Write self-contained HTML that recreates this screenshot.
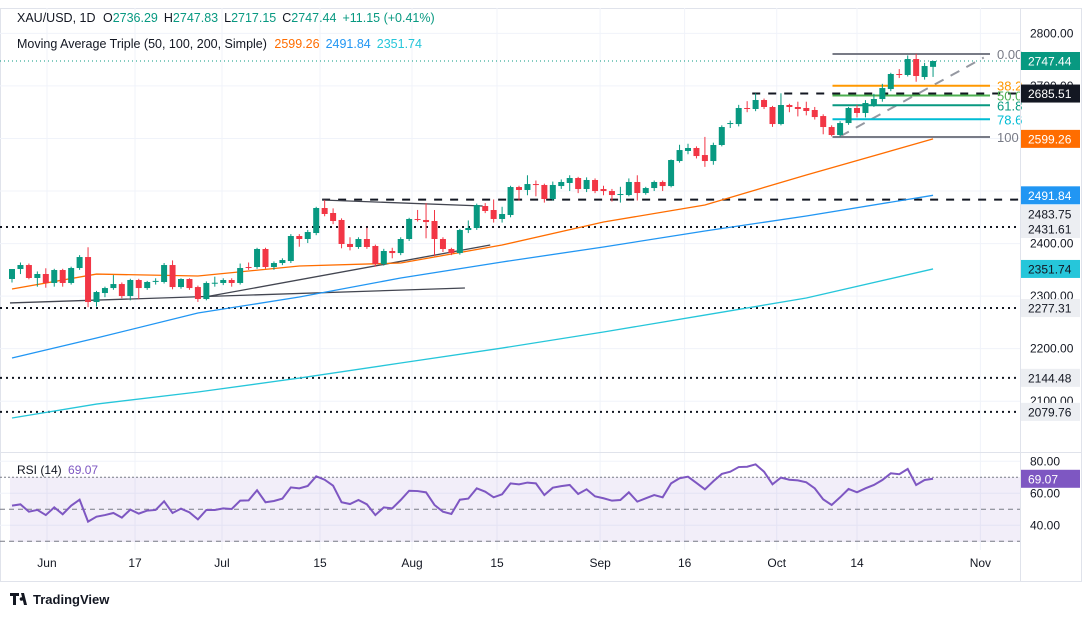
<!DOCTYPE html>
<html><head><meta charset="utf-8">
<style>
html,body{margin:0;padding:0;background:#fff;}
svg{display:block;font-family:"Liberation Sans",sans-serif;}
</style></head>
<body>
<svg id="chart" width="1091" height="617" viewBox="0 0 1091 617">
<rect x="0" y="0" width="1091" height="617" fill="#fff"/>
<rect x="0.5" y="8.5" width="1081" height="573" fill="none" stroke="#e0e3eb"/>
<g id="grid"></g>
<rect x="10" y="477" width="1010" height="65" fill="#7e57c2" fill-opacity="0.1"/>
<g id="main"></g>
<g id="rsi"></g>
<line x1="0" y1="452.5" x2="1081" y2="452.5" stroke="#e0e3eb"/>
<line x1="1020.5" y1="8" x2="1020.5" y2="582" stroke="#e0e3eb"/>
<g id="axes"></g>
<text x="17" y="22" font-size="12.5" fill="#131722">XAU/USD, 1D <tspan dx="4">O</tspan><tspan fill="#089981">2736.29</tspan><tspan dx="6">H</tspan><tspan fill="#089981">2747.83</tspan><tspan dx="6">L</tspan><tspan fill="#089981">2717.15</tspan><tspan dx="6">C</tspan><tspan fill="#089981">2747.44</tspan><tspan dx="6" fill="#089981">+11.15 (+0.41%)</tspan></text>
<text x="17" y="48" font-size="12.5" fill="#131722">Moving Average Triple (50, 100, 200, Simple) <tspan dx="4" fill="#ff6d00">2599.26</tspan><tspan dx="6" fill="#2196f3">2491.84</tspan><tspan dx="6" fill="#26c6da">2351.74</tspan></text>
<text x="17" y="474" font-size="12" fill="#131722">RSI (14) <tspan dx="3" fill="#7e57c2">69.07</tspan></text>
<g>
<path d="M10 593h9v3h-3v9h-3v-9h-3z M21 593h3l3 12h-3z" fill="#131722"/>
<circle cx="21.5" cy="599" r="1.8" fill="#131722"/>
<text x="33" y="604" font-size="13" font-weight="bold" fill="#131722">TradingView</text>
</g>
</svg>
<script>
const candles=[
[2332.6,2338,2326,2351.6],[2351.6,2364,2342,2359.2],[2359.2,2362,2332,2334.5],[2334.5,2347,2318,2342.1],[2342.1,2353,2316,2325],
[2325,2352,2318,2349.7],[2349.7,2352,2318,2325],[2325,2356,2322,2353.5],[2353.5,2378,2350,2374.4],[2374.4,2393,2279,2288.8],
[2288.8,2310,2280,2307.8],[2305.9,2318,2298,2315.4],[2315.4,2340,2312,2323],[2323,2326,2296,2300.2],[2300.2,2333,2292,2330.7],
[2330.7,2333,2294,2315.4],[2315.4,2329,2312,2326.9],[2328.8,2334,2322,2329],[2326.9,2363,2324,2359.2],[2359.2,2368,2313,2317.3],
[2317.3,2334,2314,2332.6],[2332.6,2334,2312,2315.4],[2317.3,2320,2289,2294.5],[2294.5,2328,2292,2325],[2325,2337,2318,2325.5],
[2325,2334,2321,2330.7],[2330.7,2334,2318,2325],[2325,2362,2322,2353.5],[2355.4,2364,2350,2355],[2355.4,2392,2352,2389.7],
[2389.7,2392,2352,2355.4],[2355.4,2366,2350,2363],[2363,2372,2359,2368.7],[2366.8,2418,2363,2414.4],[2414.4,2418,2394,2408.7],
[2408.7,2426,2401,2422],[2420.1,2470,2416,2467.7],[2467.7,2483,2452,2456.3],[2458.2,2467,2437,2443],[2444.9,2448,2391,2399.2],
[2399.2,2412,2387,2393.5],[2393.5,2412,2390,2408.7],[2408.7,2430,2390,2393.5],[2395.4,2398,2356,2361.1],[2361.1,2390,2358,2385.9],
[2385.9,2392,2372,2382],[2382,2412,2378,2408.7],[2408.7,2449,2405,2446.8],[2446.8,2464,2442,2446],[2444.9,2477,2410,2441],
[2443,2464,2376,2408.7],[2408.7,2412,2384,2389.7],[2389.7,2392,2378,2382],[2382,2428,2379,2425.8],[2425.8,2444,2420,2429.6],
[2429.6,2476,2426,2473.4],[2471.5,2477,2458,2462],[2463.9,2484,2440,2446.8],[2446.8,2470,2440,2456.3],[2454.4,2510,2450,2507.6],
[2507.6,2510,2482,2502],[2502,2530,2492,2513.3],[2513.3,2520,2490,2513],[2511.5,2514,2478,2484.8],[2484.8,2518,2482,2511.5],
[2509.5,2522,2504,2517.2],[2515.3,2530,2500,2524.8],[2524.8,2527,2496,2503.8],[2503.8,2526,2498,2521],[2521,2524,2496,2500],
[2503.8,2510,2492,2500],[2500,2504,2480,2492.4],[2492.4,2508,2478,2494.3],[2492.4,2524,2490,2517.2],[2517.2,2530,2482,2496.2],
[2496.2,2508,2493,2505.7],[2505.7,2520,2500,2517.2],[2517.2,2520,2500,2509.5],[2509.5,2560,2507,2559],[2557.1,2588,2554,2578],
[2576.2,2590,2570,2581.9],[2581.9,2585,2562,2566.6],[2568.5,2603,2546,2557.1],[2557.1,2592,2550,2587.6],[2587.6,2625,2585,2621.8],
[2627.5,2634,2620,2629.4],[2627.5,2664,2623,2658],[2658,2671,2650,2656.1],[2656.1,2686,2652,2673.2],[2673.2,2676,2656,2659.9],
[2659.9,2662,2622,2627.5],[2627.5,2686,2625,2663.7],[2663.7,2666,2650,2659.9],[2659.9,2670,2642,2656.1],[2658,2670,2644,2652.3],
[2654.2,2660,2636,2640.8],[2642.7,2646,2608,2621.8],[2621.8,2625,2604,2606.6],[2606.6,2633,2603,2629.4],[2629.4,2660,2626,2658],
[2658,2664,2640,2648.5],[2648.5,2673,2640,2667.5],[2663.7,2685,2660,2675.1],[2675.1,2704,2670,2696],[2694.1,2725,2690,2722.7],
[2722.7,2732,2715,2720.8],[2720.8,2758,2718,2751.2],[2751.2,2761,2708,2718.9],[2717,2744,2712,2737.9],[2736.29,2747.83,2717.15,2747.44]];
const rsiValues=[52.3,53.1,48.5,49.6,46.4,51.2,46.9,52.3,56.0,42.3,45.4,46.4,47.7,44.8,49.8,47.3,49.2,49.6,55.0,47.7,
50.4,48.1,43.7,49.6,49.6,50.6,50.2,55.4,55.6,61.9,54.4,55.2,56.7,63.7,63.1,64.6,70.6,68.5,64.8,54.4,
53.3,55.8,53.1,46.4,51.2,50.6,55.8,61.6,61.4,60.6,52.7,48.5,47.1,56.0,56.7,63.1,61.0,57.5,59.4,
66.2,65.6,66.7,66.2,58.9,63.5,64.5,65.2,59.6,62.5,58.1,56.9,55.4,55.8,60.6,54.8,56.9,58.9,57.5,66.2,69.4,
70.4,66.5,62.5,67.5,72.1,73.5,76.4,76.6,78.1,73.5,65.6,69.8,68.5,68.1,66.9,63.1,56.2,52.7,57.5,62.7,
60.6,63.1,65.2,68.3,72.5,71.9,75.2,65.2,68.3,69.07];
const maIdx=[0,10,22,34,46,58,70,82,94,109];
const sma50=[2313.5,2342,2338.3,2357.3,2363,2397.3,2441,2473.4,2530.5,2599.26];
const sma100=[2182.2,2220.3,2267.9,2298.3,2334.5,2365,2393.5,2424,2452.5,2491.84];
const sma200=[2068,2094.6,2117.5,2144.1,2172.7,2201.2,2231.7,2264,2296.4,2351.74];
const timeTickIdx=[4.14,14.56,24.85,36.45,47.34,57.4,69.6,79.6,90.5,100,114.6];
const timeTickLabels=["Jun","17","Jul","15","Aug","15","Sep","16","Oct","14","Nov"];
const priceTicks=[2800,2700,2400,2300,2200,2100];
const gridPrices=[2800,2700,2600,2500,2400,2300,2200,2100];
const dottedLevels=[2431.61,2277.31,2144.48,2079.76];
const fibHigh=2760.7, fibLow=2602.8;
const fibRatios=[0,0.382,0.5,0.618,0.786,1];
const fibLabels=["0.00","38.2","50.0","61.8","78.6","100"];
const fibColors=["#787b86","#ff9800","#4caf50","#089981","#00bcd4","#787b86"];
const rsiTicks=[80,60,40];
const rsiTickLabels=["80.00","60.00","40.00"];

const NS="http://www.w3.org/2000/svg";
const X=i=>12+i*8.45;
const Y=p=>61+(2747.44-p)*0.5255;
const RY=v=>477.3+(70-v)*1.6;
function mk(parent,tag,attrs){const e=document.createElementNS(NS,tag);for(const k in attrs)e.setAttribute(k,attrs[k]);parent.appendChild(e);return e;}
const grid=document.getElementById('grid'),main=document.getElementById('main'),rsi=document.getElementById('rsi'),axes=document.getElementById('axes');

gridPrices.forEach(p=>{const l=mk(grid,'line',{x1:0,x2:1020,y1:Y(p),y2:Y(p),stroke:'#f0f3fa'});

});
rsiTicks.forEach(v=>{const l=mk(grid,'line',{x1:0,x2:1020,y1:RY(v),y2:RY(v),stroke:'#f0f3fa'});

});
timeTickIdx.forEach(i=>{const l=mk(grid,'line',{x1:X(i),x2:X(i),y1:8,y2:550,stroke:'#f0f3fa'});

});

// horizontal levels
dottedLevels.forEach(p=>{const l=mk(main,'line',{x1:0,x2:1020,y1:Y(p),y2:Y(p),stroke:'#131722','stroke-width':2,'stroke-dasharray':'2 4'});

});
let l1=mk(main,'line',{x1:X(36.7),x2:1020,y1:Y(2483.75),y2:Y(2483.75),stroke:'#131722','stroke-width':2,'stroke-dasharray':'8 8'});


let l2=mk(main,'line',{x1:X(87.6),x2:1020,y1:Y(2685.51),y2:Y(2685.51),stroke:'#131722','stroke-width':2,'stroke-dasharray':'8 8'});


let lc=mk(main,'line',{x1:0,x2:1020,y1:Y(2747.44),y2:Y(2747.44),stroke:'#089981','stroke-dasharray':'1 3'});



// trendlines
[[-0.24,2287,53.6,2315.5],[22.8,2298.3,56.6,2397.3],[36.7,2483,55.7,2471.5]].forEach(t=>{
const l=mk(main,'line',{x1:X(t[0]),y1:Y(t[1]),x2:X(t[2]),y2:Y(t[3]),stroke:'#434651','stroke-width':1.3});

});
let dg=mk(main,'line',{x1:X(98),y1:Y(2604),x2:X(115),y2:Y(2754),stroke:'#9598a1','stroke-width':2,'stroke-dasharray':'10 8'});



// fib
fibRatios.forEach((r,k)=>{const p=fibHigh-(fibHigh-fibLow)*r;
const l=mk(main,'line',{x1:X(97.1),x2:990,y1:Y(p),y2:Y(p),stroke:fibColors[k],'stroke-width':2});


const t=mk(main,'text',{x:997,y:Y(p)+5,'font-size':13,fill:fibColors[k]});t.textContent=fibLabels[k];

});

// MAs
function maLine(vals,color,name){const pts=maIdx.map((i,k)=>X(i)+','+Y(vals[k])).join(' ');
const l=mk(main,'polyline',{points:pts,fill:'none',stroke:color,'stroke-width':1.3});

}
maLine(sma50,'#ff6d00','sma-50-line');maLine(sma100,'#2196f3','sma-100-line');maLine(sma200,'#26c6da','sma-200-line');

// candles
candles.forEach((c,i)=>{const [o,h,lo,cl]=c;const col=cl>=o?'#089981':'#f23645';const x=X(i);
const g=mk(main,'g',{});


mk(g,'line',{x1:x,x2:x,y1:Y(h),y2:Y(lo),stroke:col,'stroke-width':1});
const yt=Y(Math.max(o,cl)),yb=Y(Math.min(o,cl));
mk(g,'rect',{x:x-3,y:yt,width:6,height:Math.max(1,yb-yt),fill:col});});

// RSI
[70,50,30].forEach(v=>{const l=mk(rsi,'line',{x1:0,x2:1020,y1:RY(v),y2:RY(v),stroke:'#787b86','stroke-dasharray':v==70?'2 2':'5 4'});

});
const rl=mk(rsi,'polyline',{points:rsiValues.map((v,i)=>X(i)+','+RY(v)).join(' '),fill:'none',stroke:'#7e57c2','stroke-width':2});



// axes labels
priceTicks.forEach(p=>{const t=mk(axes,'text',{x:1030,y:Y(p)+4,'font-size':12,fill:'#131722'});t.textContent=p.toFixed(2);

});
rsiTicks.forEach((v,k)=>{const t=mk(axes,'text',{x:1030,y:RY(v)+4,'font-size':12,fill:'#131722'});t.textContent=rsiTickLabels[k];

});
timeTickIdx.forEach((i,k)=>{const t=mk(axes,'text',{x:X(i),y:567,'font-size':12,fill:'#131722','text-anchor':'middle'});t.textContent=timeTickLabels[k];

});
const tags=[[2747.44,Y(2747.44),'#089981','#fff'],[2685.51,Y(2685.51),'#131722','#fff'],[2599.26,Y(2599.26),'#ff6d00','#fff'],
[2491.84,Y(2491.84),'#2196f3','#fff'],[2483.75,214,'#eceef2','#131722'],[2431.61,229,'#eceef2','#131722'],[2351.74,Y(2351.74),'#26c6da','#131722'],
[2277.31,Y(2277.31),'#eceef2','#131722'],[2144.48,Y(2144.48),'#eceef2','#131722'],[2079.76,Y(2079.76),'#eceef2','#131722']];
tags.forEach(t=>{const g=mk(axes,'g',{});


mk(g,'rect',{x:1021,y:t[1]-9,width:59,height:18,fill:t[2]});
const tx=mk(g,'text',{x:1028,y:t[1]+4.5,'font-size':12,fill:t[3]});tx.textContent=t[0].toFixed(2);});
const rg=mk(axes,'g',{});


mk(rg,'rect',{x:1021,y:RY(69.07)-9,width:59,height:18,fill:'#7e57c2'});
const rt=mk(rg,'text',{x:1028,y:RY(69.07)+4.5,'font-size':12,fill:'#fff'});rt.textContent='69.07';
</script>
</body></html>
